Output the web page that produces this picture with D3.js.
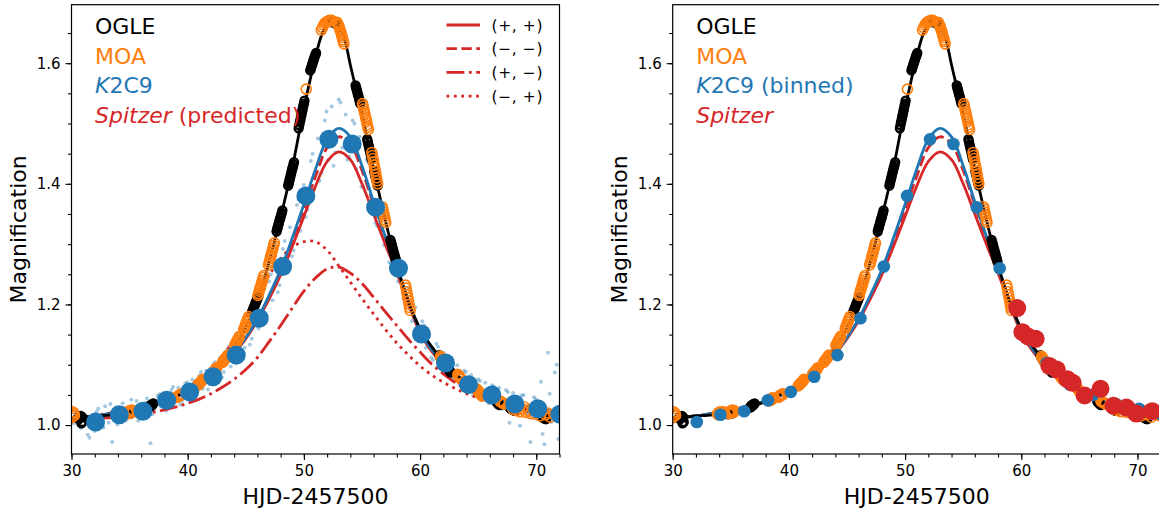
<!DOCTYPE html>
<html>
<head>
<meta charset="utf-8">
<script src="https://cdn.jsdelivr.net/npm/d3@7"></script>
<style>
  body { margin: 0; background: #fff; }
  text { font-family: "DejaVu Sans", sans-serif; }
</style>
</head>
<body>
<svg id="fig" width="1159" height="512"></svg>
<script>
// model curves sampled once per day
var modelDays = [30,31,32,33,34,35,36,37,38,39,40,41,42,43,44,45,46,47,48,49,50,51,52,53,54,55,56,57,58,59,60,61,62,63,64,65,66,67,68,69,70,71,72];
var k2Model = [1.011,1.013,1.015,1.018,1.021,1.025,1.029,1.034,1.040,1.047,1.056,1.067,1.081,1.098,1.119,1.145,1.176,1.215,1.258,1.310,1.366,1.424,1.474,1.492,1.478,1.430,1.370,1.313,1.262,1.205,1.157,1.125,1.104,1.086,1.071,1.059,1.050,1.043,1.037,1.032,1.028,1.024,1.021];
var ppModel = [1.011,1.013,1.015,1.018,1.021,1.025,1.029,1.034,1.040,1.047,1.055,1.066,1.080,1.097,1.118,1.143,1.173,1.209,1.249,1.296,1.346,1.396,1.437,1.453,1.440,1.400,1.350,1.300,1.252,1.200,1.153,1.122,1.101,1.084,1.070,1.058,1.049,1.042,1.036,1.031,1.027,1.023,1.020];
var mmModel = [1.011,1.013,1.015,1.018,1.021,1.025,1.029,1.034,1.040,1.047,1.055,1.066,1.080,1.097,1.118,1.144,1.175,1.213,1.255,1.305,1.358,1.412,1.460,1.478,1.466,1.422,1.365,1.310,1.260,1.204,1.156,1.124,1.103,1.085,1.070,1.059,1.050,1.043,1.037,1.032,1.028,1.024,1.021];
var pmModel = [1.008,1.009,1.010,1.012,1.013,1.015,1.018,1.021,1.025,1.030,1.036,1.043,1.052,1.063,1.076,1.092,1.112,1.138,1.165,1.194,1.222,1.244,1.259,1.262,1.252,1.235,1.212,1.188,1.165,1.142,1.121,1.101,1.085,1.071,1.060,1.051,1.043,1.037,1.032,1.028,1.024,1.021,1.019];
var mpModel = [1.012,1.014,1.016,1.019,1.022,1.026,1.030,1.035,1.041,1.049,1.059,1.073,1.091,1.114,1.143,1.178,1.214,1.248,1.276,1.295,1.304,1.304,1.290,1.264,1.237,1.210,1.184,1.159,1.136,1.116,1.098,1.083,1.071,1.061,1.052,1.045,1.039,1.034,1.029,1.025,1.022,1.019,1.017];

// ground-based model, finer near the peak
var ogleDays = [30,31,32,33,34,35,36,37,38,39,40,41,42,43,44,45,46,47,48,49,50,51,51.5,52,52.5,53,53.5,54,55,56,57,58,59,60,61,62,63,64,65,66,67,68,69,70,71,72];
var ogleModel = [1.012,1.013,1.015,1.016,1.018,1.021,1.026,1.032,1.039,1.048,1.058,1.070,1.085,1.105,1.130,1.162,1.205,1.270,1.345,1.427,1.525,1.610,1.645,1.664,1.670,1.662,1.640,1.597,1.515,1.425,1.340,1.265,1.205,1.160,1.130,1.106,1.086,1.069,1.055,1.044,1.035,1.029,1.024,1.020,1.017,1.015];

// OGLE photometry, nightly clumps
var ogle = [
  [30.55,1.011],[30.6,1.013],[30.65,1.010],[30.7,1.014],[30.75,1.012],[30.8,1.015],[30.85,1.003],[30.9,1.013],[30.95,1.005],
  [34.75,1.018],[34.8,1.021],[34.85,1.019],[34.9,1.022],[34.95,1.020],[35.0,1.023],[35.05,1.021],[35.1,1.019],[35.15,1.022],
  [36.65,1.029],[36.7,1.031],[36.75,1.030],[36.8,1.033],[36.85,1.032],[36.9,1.034],[36.95,1.033],[37.0,1.035],[37.05,1.036],
  [45.55,1.188],[45.6,1.190],[45.65,1.193],[45.7,1.195],[45.75,1.198],[45.8,1.200],[45.85,1.203],[45.9,1.205],[45.95,1.207],[46.0,1.210],[46.05,1.212],
  [47.65,1.321],[47.7,1.325],[47.75,1.328],[47.8,1.332],[47.85,1.335],[47.9,1.339],[47.95,1.342],[48.0,1.345],[48.05,1.349],[48.1,1.352],[48.15,1.356],
  [48.65,1.397],[48.7,1.401],[48.75,1.405],[48.8,1.409],[48.85,1.413],[48.9,1.417],[48.95,1.421],[49.0,1.425],[49.05,1.428],[49.1,1.432],[49.15,1.436],
  [49.55,1.492],[49.6,1.497],[49.65,1.502],[49.7,1.506],[49.75,1.511],[49.8,1.515],[49.85,1.520],[49.9,1.524],[49.95,1.529],[50.0,1.533],[50.05,1.538],
  [50.55,1.588],[50.6,1.591],[50.65,1.594],[50.7,1.597],[50.75,1.600],[50.8,1.603],[50.85,1.606],[50.9,1.609],[50.95,1.612],[51.0,1.614],[51.05,1.617],
  [52.35,1.668],[52.4,1.669],[52.45,1.669],[52.5,1.670],[52.55,1.669],[52.6,1.669],[52.65,1.668],[52.7,1.667],[52.75,1.666],[52.8,1.665],[52.85,1.664],[52.9,1.663],[52.95,1.662],[53.0,1.661],[53.05,1.660],
  [54.45,1.563],[54.5,1.559],[54.55,1.556],[54.6,1.552],[54.65,1.548],[54.7,1.545],[54.75,1.541],[54.8,1.537],[54.85,1.533],
  [55.45,1.474],[55.5,1.470],[55.55,1.465],[55.6,1.461],[55.65,1.457],[55.7,1.453],[55.75,1.449],[55.8,1.444],[55.85,1.440],
  [56.05,1.421],[56.1,1.417],[56.15,1.413],[56.2,1.409],[56.25,1.405],[56.3,1.401],[56.35,1.397],
  [57.45,1.307],[57.5,1.303],[57.55,1.300],[57.6,1.296],[57.65,1.292],[57.7,1.289],[57.75,1.285],[57.8,1.282],[57.85,1.278],[57.9,1.275],[57.95,1.271],
  [61.65,1.116],[61.7,1.114],[61.75,1.112],[61.8,1.110],[61.85,1.109],[61.9,1.107],[61.95,1.105],
  [62.35,1.096],[62.4,1.094],[62.45,1.093],[62.5,1.091],[62.55,1.090],[62.6,1.088],[62.65,1.087],
  [66.55,1.039],[66.6,1.038],[66.65,1.037],[66.7,1.036],[66.75,1.035],[66.8,1.034],[66.85,1.033],
  [67.75,1.028],[67.8,1.027],[67.85,1.027],[67.9,1.026],[67.95,1.026],[68.0,1.025],[68.05,1.025],[68.1,1.024],[68.15,1.024],
  [70.55,1.013],[70.6,1.012],[70.65,1.012],[70.7,1.011],[70.75,1.011],[70.8,1.010],[70.85,1.010]];

// MOA photometry
var moa = [
  [30.0,1.012],[30.05,1.018],[30.1,1.022],[30.15,1.015],[30.2,1.020],[30.25,1.016],
  [33.85,1.018],[33.9,1.020],[33.95,1.017],[34.0,1.021],[34.05,1.019],[34.1,1.022],[34.15,1.018],[34.2,1.020],[34.25,1.021],[34.3,1.019],[34.35,1.022],
  [34.8,1.020],[34.85,1.022],[34.9,1.019],[34.95,1.023],[35.0,1.021],[35.05,1.024],[35.1,1.022],[35.15,1.025],[35.2,1.023],[35.25,1.021],[35.3,1.024],
  [38.3,1.040],[38.35,1.042],[38.4,1.041],[38.45,1.043],[38.5,1.044],[38.55,1.042],[38.6,1.045],
  [39.1,1.046],[39.15,1.048],[39.2,1.047],[39.25,1.049],[39.3,1.050],[39.35,1.049],[39.4,1.051],[39.45,1.050],[39.5,1.052],
  [40.8,1.065],[40.85,1.066],[40.9,1.067],[40.95,1.068],[41.0,1.069],[41.05,1.070],[41.1,1.071],[41.15,1.072],[41.2,1.073],[41.25,1.074],[41.3,1.076],
  [42.0,1.083],[42.05,1.084],[42.1,1.085],[42.15,1.087],[42.2,1.088],[42.25,1.089],[42.3,1.090],[42.35,1.091],[42.4,1.092],[42.45,1.094],[42.5,1.095],
  [43.0,1.104],[43.05,1.105],[43.1,1.107],[43.15,1.108],[43.2,1.109],[43.25,1.110],[43.3,1.112],[43.35,1.113],[43.4,1.114],[43.45,1.116],
  [44.05,1.132],[44.1,1.134],[44.15,1.136],[44.2,1.138],[44.25,1.140],[44.3,1.141],[44.35,1.143],[44.4,1.145],[44.45,1.147],
  [44.85,1.160],[44.9,1.162],[44.95,1.165],[45.0,1.167],[45.05,1.170],[45.1,1.172],[45.15,1.175],[45.2,1.177],[45.25,1.180],
  [46.05,1.215],[46.1,1.218],[46.15,1.222],[46.2,1.225],[46.25,1.228],[46.3,1.231],[46.35,1.235],[46.4,1.238],[46.45,1.241],[46.5,1.245],[46.55,1.248],
  [46.95,1.265],[47.0,1.269],[47.05,1.272],[47.1,1.276],[47.15,1.280],[47.2,1.283],[47.25,1.287],[47.3,1.291],[47.35,1.294],[47.4,1.298],[47.45,1.302],
  [50.2,1.557],
  [51.5,1.655],[51.6,1.659],[51.7,1.663],[51.8,1.666],[51.9,1.668],[52.0,1.669],[52.1,1.670],[52.2,1.671],[52.3,1.670],[52.4,1.671],
  [52.85,1.668],[52.9,1.666],[52.95,1.664],[53.0,1.662],[53.05,1.659],[53.1,1.656],[53.15,1.653],[53.2,1.650],[53.25,1.646],[53.3,1.643],[53.35,1.639],[53.4,1.636],[53.45,1.632],
  [55.05,1.533],[55.1,1.529],[55.15,1.524],[55.2,1.520],[55.25,1.516],[55.3,1.511],[55.35,1.507],[55.4,1.503],[55.45,1.498],[55.5,1.494],[55.55,1.490],
  [55.85,1.452],[55.9,1.447],[55.95,1.442],[56.0,1.436],[56.05,1.431],[56.1,1.426],[56.15,1.421],[56.2,1.416],[56.25,1.410],[56.3,1.405],[56.35,1.400],
  [56.75,1.362],[56.8,1.358],[56.85,1.353],[56.9,1.349],[56.95,1.345],[57.0,1.340],[57.05,1.336],
  [58.75,1.232],[58.8,1.227],[58.85,1.221],[58.9,1.216],[58.95,1.211],[59.0,1.206],[59.05,1.200],[59.1,1.195],[59.15,1.190],
  [61.75,1.114],[61.8,1.112],[61.85,1.111],[61.9,1.109],[61.95,1.107],[62.0,1.106],[62.05,1.104],
  [63.25,1.084],[63.3,1.083],[63.35,1.081],[63.4,1.080],[63.45,1.079],[63.5,1.077],[63.55,1.076],
  [64.85,1.060],[64.9,1.059],[64.95,1.058],[65.0,1.056],[65.05,1.055],[65.1,1.054],[65.15,1.053],[65.2,1.052],[65.25,1.050],[65.3,1.049],[65.35,1.048],
  [66.85,1.040],[66.9,1.039],[66.95,1.039],[67.0,1.038],[67.05,1.037],[67.1,1.037],[67.15,1.036],[67.2,1.036],[67.25,1.035],
  [67.9,1.030],[68.0,1.026],[68.1,1.032],[68.3,1.024],[68.4,1.028],[68.6,1.022],[68.8,1.027],[69.0,1.030],[69.1,1.021],[69.3,1.025],[69.5,1.019],
  [69.7,1.026],[69.9,1.018],[70.1,1.022],[70.3,1.015],[70.5,1.024],[70.8,1.017],[71.0,1.020],[71.2,1.013],[71.5,1.018],[71.8,1.016]];

// K2C9 unbinned photometry (faint dots)
var k2Raw = [[30.2,1.003],[30.5,1.024],[30.8,0.995],[31.1,1.018],[31.4,0.984],[31.7,1.006],[32.0,0.990],[32.3,1.027],[32.6,1.010],[32.9,1.031],
  [33.2,1.004],[33.5,0.972],[33.8,1.029],[34.1,1.013],[34.4,1.036],[34.7,1.008],[35.0,1.030],[35.3,1.015],[35.6,1.040],[35.9,1.019],
  [36.2,1.012],[36.5,1.044],[36.8,0.970],[37.1,1.026],[37.4,1.048],[37.7,1.031],[38.0,1.052],[38.3,1.030],[38.6,1.058],[38.9,1.038],
  [39.2,1.062],[39.5,1.040],[39.8,1.069],[40.1,1.047],[40.4,1.075],[40.7,1.055],[41.0,1.082],[41.3,1.060],[41.6,1.090],[41.9,1.068],
  [42.2,1.100],[42.5,1.078],[42.8,1.112],[43.1,1.088],[43.4,1.125],[43.7,1.097],[44.0,1.137],[44.3,1.110],[44.6,1.152],[44.9,1.128],
  [45.2,1.170],[45.5,1.143],[45.8,1.188],[46.1,1.160],[46.4,1.212],[46.7,1.185],[47.0,1.238],[47.3,1.207],[47.6,1.265],[47.9,1.232],
  [48.2,1.292],[48.5,1.262],[48.8,1.328],[49.1,1.290],[49.4,1.365],[49.7,1.322],[50.0,1.398],[50.3,1.357],[50.6,1.438],[50.9,1.392],
  [51.2,1.475],[51.5,1.418],[51.8,1.505],[52.1,1.440],[52.4,1.528],[52.7,1.452],[53.0,1.540],[53.3,1.460],[53.6,1.515],[53.9,1.445],
  [54.2,1.505],[54.5,1.425],[54.8,1.478],[55.1,1.395],[55.4,1.440],[55.7,1.360],[56.0,1.398],[56.3,1.330],[56.6,1.360],[56.9,1.298],
  [57.2,1.325],[57.5,1.268],[57.8,1.292],[58.1,1.238],[58.4,1.262],[58.7,1.203],[59.0,1.228],[59.3,1.172],[59.6,1.195],[59.9,1.145],
  [60.2,1.172],[60.5,1.128],[60.8,1.148],[61.1,1.108],[61.4,1.135],[61.7,1.096],[62.0,1.120],[62.3,1.088],[62.6,1.110],[62.9,1.075],
  [63.2,1.099],[63.5,1.066],[63.8,1.090],[64.1,1.055],[64.4,1.083],[64.7,1.048],[65.0,1.076],[65.3,1.042],[65.6,1.070],[65.9,1.036],
  [66.2,1.066],[66.5,1.030],[66.8,1.062],[67.1,1.027],[67.4,1.058],[67.7,1.004],[68.0,1.053],[68.3,1.022],[68.6,0.999],[68.9,1.050],
  [69.2,1.018],[69.5,0.972],[69.8,1.046],[70.1,1.012],[70.4,1.072],[70.7,0.968],[71.0,1.120],[71.3,1.005],[71.6,1.087],[71.9,0.977],
  [30.35,1.019],[30.95,0.998],[31.55,0.979],[32.15,1.022],[32.75,0.996],[33.35,1.035],[33.95,1.001],[34.55,1.017],[35.15,1.042],[35.75,1.007],
  [36.35,1.037],[36.95,1.018],[37.55,1.051],[38.15,1.024],[38.75,1.063],[39.35,1.034],[39.95,1.071],[40.55,1.046],[41.15,1.088],[41.75,1.059],
  [42.35,1.104],[42.95,1.079],[43.55,1.130],[44.15,1.103],[44.75,1.160],[45.35,1.133],[45.95,1.198],[46.55,1.172],[47.15,1.250],[47.75,1.220],
  [48.35,1.305],[48.95,1.280],[49.55,1.375],[50.15,1.345],[50.75,1.450],[51.35,1.405],[51.95,1.520],[52.55,1.430],[53.15,1.535],[53.75,1.440],
  [54.35,1.500],[54.95,1.395],[55.55,1.435],[56.15,1.335],[56.75,1.350],[57.35,1.270],[57.95,1.285],[58.55,1.210],[59.15,1.220],[59.75,1.150],
  [60.35,1.165],[60.95,1.112],[61.55,1.130],[62.15,1.087],[62.75,1.106],[63.35,1.068],[63.95,1.088],[64.55,1.050],[65.15,1.073],[65.75,1.040],
  [66.35,1.064],[66.95,1.029],[67.55,1.055],[68.15,1.020],[68.75,1.049],[69.35,1.016],[69.95,1.043],[70.55,0.985],[71.15,1.052],[71.75,1.100]];

var k2BinT = [32.07,34.11,36.15,38.19,40.17,42.18,44.18,46.16,48.17,50.17,52.15,54.16,56.17,58.14,60.12,62.19,64.17,66.18,68.15,70.13,72.04];
var k2BinA = [1.005,1.017,1.023,1.041,1.055,1.080,1.116,1.177,1.263,1.380,1.474,1.466,1.361,1.260,1.151,1.103,1.067,1.050,1.035,1.027,1.018];

var spzT = [59.65,60.1,60.57,61.24,62.42,63.06,63.96,64.43,65.45,66.82,67.93,69.05,69.9,71.27];
var spzA = [1.194,1.154,1.147,1.143,1.098,1.092,1.076,1.070,1.049,1.060,1.032,1.029,1.019,1.023];

var xTicks = [30, 40, 50, 60, 70];
var yTicks = [1.0, 1.2, 1.4, 1.6];
var solLabels = ["(+, +)", "(\u2212, \u2212)", "(+, \u2212)", "(\u2212, +)"];

var BLACK = "#000000", ORANGE = "#ff7f0e", BLUE = "#1f77b4", RED = "#d62728";
var LW = 2.8;
var DASH = { solid: null, dashed: "10.4,4.5", dashdot: "17.9,4.5,2.8,4.5", dotted: "2.8,4.6" };

var svg = d3.select("#fig");
var plotW = 488, plotTop = 4.7, plotBottom = 454;

function panel(left, id, right) {
	var x = d3.scaleLinear().domain([30, 72]).range([left, left + plotW]);
	var y = d3.scaleLinear().domain([0.952, 1.697]).range([plotBottom, plotTop]);

	svg.append("clipPath").attr("id", id)
		.append("rect")
		.attr("x", left).attr("y", plotTop)
		.attr("width", plotW).attr("height", plotBottom - plotTop);

	var g = svg.append("g").attr("clip-path", "url(#" + id + ")");

	var line = d3.line()
		.x(function(d) { return x(d[0]); })
		.y(function(d) { return y(d[1]); })
		.curve(d3.curveCatmullRom.alpha(0.5));

	function curve(days, vals, color, dash) {
		g.append("path")
			.datum(d3.zip(days, vals))
			.attr("d", line)
			.attr("fill", "none")
			.attr("stroke", color)
			.attr("stroke-width", LW)
			.attr("stroke-dasharray", dash);
	}

	if (!right) {
		// raw K2 photometry
		g.selectAll(".raw").data(k2Raw).enter().append("circle")
			.attr("cx", function(d) { return x(d[0]); })
			.attr("cy", function(d) { return y(d[1]); })
			.attr("r", 2)
			.attr("fill", BLUE)
			.attr("fill-opacity", 0.4);
		curve(modelDays, mpModel, RED, DASH.dotted);
		curve(modelDays, pmModel, RED, DASH.dashdot);
	}
	curve(modelDays, mmModel, RED, DASH.dashed);
	curve(modelDays, ppModel, RED, DASH.solid);
	curve(modelDays, k2Model, BLUE, DASH.solid);
	curve(ogleDays, ogleModel, BLACK, DASH.solid);

	g.selectAll(".ogle").data(ogle).enter().append("circle")
		.attr("cx", function(d) { return x(d[0]); })
		.attr("cy", function(d) { return y(d[1]); })
		.attr("r", 4)
		.attr("fill", "none")
		.attr("stroke", BLACK)
		.attr("stroke-width", 2.4);

	g.selectAll(".moa").data(moa).enter().append("circle")
		.attr("cx", function(d) { return x(d[0]); })
		.attr("cy", function(d) { return y(d[1]); })
		.attr("r", 5)
		.attr("fill", "none")
		.attr("stroke", ORANGE)
		.attr("stroke-width", 1.6);

	g.selectAll(".bin").data(d3.zip(k2BinT, k2BinA)).enter().append("circle")
		.attr("cx", function(d) { return x(d[0]); })
		.attr("cy", function(d) { return y(d[1]); })
		.attr("r", right ? 6.3 : 9.5)
		.attr("fill", BLUE);

	if (right) {
		g.selectAll(".spz").data(d3.zip(spzT, spzA)).enter().append("circle")
			.attr("cx", function(d) { return x(d[0]); })
			.attr("cy", function(d) { return y(d[1]); })
			.attr("r", 9)
			.attr("fill", RED);
	}

	// axes: major + minor ticks, frame drawn separately
	var ax = svg.append("g");
	ax.append("g").attr("transform", "translate(0," + plotBottom + ")")
		.call(d3.axisBottom(x).tickValues(d3.range(30, 73, 2)).tickSize(3.5).tickFormat(""));
	ax.append("g").attr("transform", "translate(0," + plotBottom + ")")
		.call(d3.axisBottom(x).tickValues(xTicks).tickSize(6).tickPadding(5).tickFormat(d3.format("d")));
	ax.append("g").attr("transform", "translate(" + left + ",0)")
		.call(d3.axisLeft(y).tickValues(d3.range(1, 15).map(function(i) { return 0.95 + 0.05 * i; })).tickSize(3.5).tickFormat(""));
	ax.append("g").attr("transform", "translate(" + left + ",0)")
		.call(d3.axisLeft(y).tickValues(yTicks).tickSize(6).tickPadding(5).tickFormat(d3.format(".1f")));
	ax.selectAll(".domain").remove();
	ax.selectAll("g").attr("font-size", null).attr("font-family", null);
	ax.selectAll(".tick line").attr("stroke", "#000").attr("stroke-width", 1.1);
	ax.selectAll(".tick text").attr("fill", "#000")
		.style("font-size", "15px")
		.style("font-family", "'DejaVu Sans', sans-serif");

	svg.append("rect")
		.attr("x", left).attr("y", plotTop)
		.attr("width", plotW).attr("height", plotBottom - plotTop)
		.attr("fill", "none").attr("stroke", "#000").attr("stroke-width", 1.2);

	svg.append("text")
		.attr("x", left + plotW / 2).attr("y", 504)
		.attr("text-anchor", "middle").attr("font-size", 22)
		.text("HJD-2457500");
	svg.append("text")
		.attr("transform", "translate(" + (left - 46) + "," + ((plotTop + plotBottom) / 2) + ")rotate(-90)")
		.attr("text-anchor", "middle").attr("font-size", 22)
		.text("Magnification");

	// data-set labels
	var tx = left + 23.5;
	var rows = [
		{ c: BLACK, parts: [["OGLE", false]] },
		{ c: ORANGE, parts: [["MOA", false]] },
		{ c: BLUE, parts: right ? [["K", true], ["2C9 (binned)", false]] : [["K", true], ["2C9", false]] },
		{ c: RED, parts: right ? [["Spitzer", true]] : [["Spitzer", true], [" (predicted)", false]] }
	];
	rows.forEach(function(r, i) {
		var t = svg.append("text")
			.attr("x", tx).attr("y", 34 + i * 29.7)
			.attr("font-size", 22).attr("fill", r.c)
			.attr("xml:space", "preserve");
		r.parts.forEach(function(p) {
			t.append("tspan").attr("font-style", p[1] ? "italic" : "normal").text(p[0]);
		});
	});

	if (!right) {
		var dashes = [DASH.solid, DASH.dashed, DASH.dashdot, DASH.dotted];
		solLabels.forEach(function(lab, i) {
			var cy = 25 + i * 23.7;
			svg.append("line")
				.attr("x1", left + 375).attr("x2", left + 408.5)
				.attr("y1", cy).attr("y2", cy)
				.attr("stroke", RED).attr("stroke-width", LW)
				.attr("stroke-dasharray", dashes[i]);
			svg.append("text")
				.attr("x", left + 420).attr("y", cy + 5.5)
				.attr("font-size", 15.5)
				.attr("textLength", 51).attr("lengthAdjust", "spacing")
				.text(lab);
		});
	}
}

panel(71.5, "clipL", false);
panel(672.7, "clipR", true);
</script>
</body>
</html>
